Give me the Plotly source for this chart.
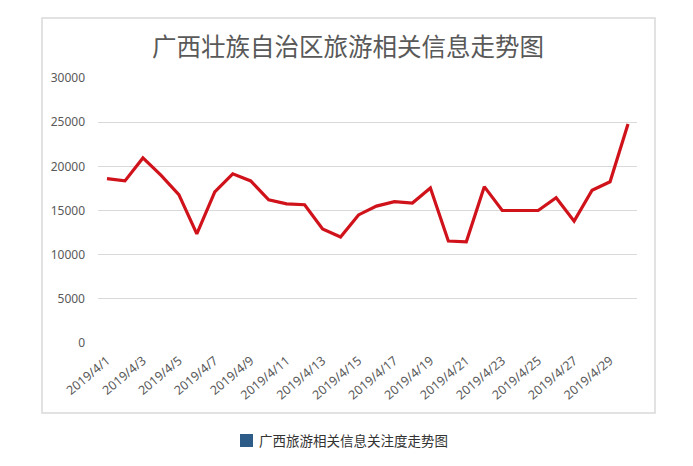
import plotly.graph_objects as go

dates = [f"2019/4/{d}" for d in range(1, 31)]
values = [18600, 18350, 20950, 19000, 16800, 12350, 17100, 19150, 18350, 16200,
          15750, 15650, 12900, 12000, 14500, 15500, 16000, 15850, 17550, 11550,
          11450, 17700, 15000, 15000, 15000, 16450, 13800, 17300, 18250, 24800]
tick_labels = dates[::2]
y_ticks = [0, 5000, 10000, 15000, 20000, 25000, 30000]
y_tick_text = [str(v) for v in y_ticks]

title_text = "广西壮族自治区旅游相关信息走势图"
caption_text = "广西旅游相关信息关注度走势图"

W, H = 693, 466
ml, mr, mt, mb = 98, 56, 78, 123
pw, ph = W - ml - mr, H - mt - mb

def px(x):
    return (x - ml) / pw

def py(y):
    return (H - mb - y) / ph

fig = go.Figure()
fig.add_trace(go.Scatter(
    x=dates, y=values, mode="lines",
    line=dict(color="#d0121b", width=3.2),
    hoverinfo="x+y", showlegend=False,
))

fig.update_layout(
    width=W, height=H,
    margin=dict(l=ml, r=mr, t=mt, b=mb),
    paper_bgcolor="white", plot_bgcolor="white",
    font=dict(family="Noto Sans, Noto Sans CJK SC", color="#595959", size=12),
    xaxis=dict(
        type="category", range=[-0.5, 29.5],
        tickmode="array", tickvals=tick_labels, ticktext=tick_labels,
        tickangle=-40, showgrid=False, showline=False, ticks="",
        ticklabelstandoff=7,
        tickfont=dict(size=12.5, color="#595959"),
    ),
    yaxis=dict(
        range=[0, 30000], tickmode="array", tickvals=y_ticks, ticktext=y_tick_text,
        showgrid=True, gridcolor="#d9d9d9", gridwidth=1,
        zeroline=False, showline=False, ticks="",
        ticklabelstandoff=12,
        tickfont=dict(size=12, color="#595959"),
    ),
    shapes=[
        dict(type="rect", xref="paper", yref="paper",
             x0=px(42), x1=px(655), y0=py(413), y1=py(18),
             line=dict(color="#d9d9d9", width=1.5), fillcolor="rgba(0,0,0,0)", layer="below"),
        dict(type="rect", xref="paper", yref="paper",
             x0=px(240), x1=px(253), y0=py(447), y1=py(434),
             line=dict(width=0), fillcolor="#2e5c89"),
    ],
    annotations=[
        dict(text=title_text, xref="paper", yref="paper", x=px(348), y=py(45),
             xanchor="center", yanchor="middle", showarrow=False,
             font=dict(family="Noto Sans CJK SC", size=24.5, color="#595959")),
        dict(text=caption_text, xref="paper", yref="paper", x=px(257), y=py(440),
             xanchor="left", yanchor="middle", showarrow=False,
             font=dict(family="Noto Sans CJK SC", size=13.5, color="#333333")),
    ],
)

fig.write_html("out.html")
